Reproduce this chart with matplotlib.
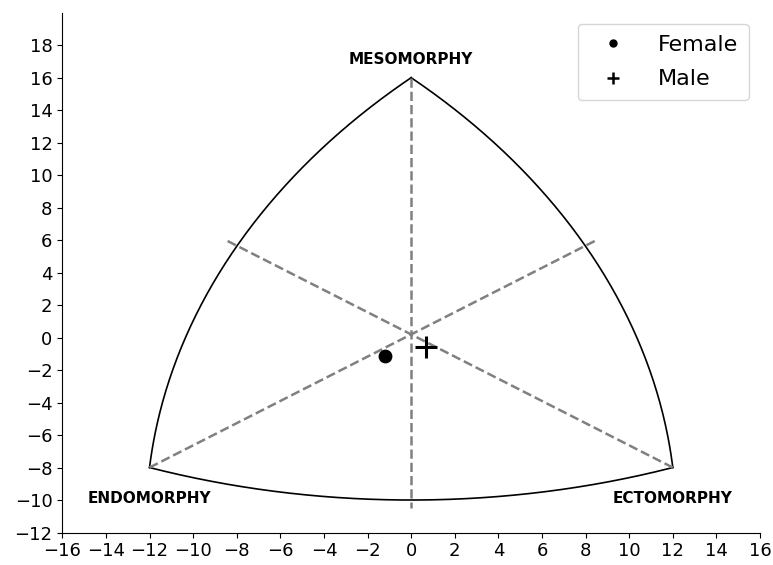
import numpy as np
import matplotlib
matplotlib.use("Agg")
import matplotlib.pyplot as plt
from matplotlib.lines import Line2D

# Somatochart vertices (x = ecto - endo, y = 2*meso - (endo + ecto))
vertex_names = ["MESOMORPHY", "ENDOMORPHY", "ECTOMORPHY"]
vertex_x = [0, -12, 12]
vertex_y = [16, -8, -8]
label_x = [0, -12, 12]
label_y = [17.1, -9.9, -9.9]
arc_radius = 37

# Axis guide lines (start x, start y, end x, end y)
guide_x0 = [0, -12, 12]
guide_y0 = [16, -8, -8]
guide_x1 = [0, 8.5, -8.5]
guide_y1 = [-10.5, 6, 6]

# Mean somatotype points
groups = ["Female", "Male"]
group_x = [-1.22, 0.67]
group_y = [-1.14, -0.57]
group_marker = ["o", "+"]

x_ticks = list(range(-16, 17, 2))
y_ticks = list(range(-12, 19, 2))


def arc(p, q, r, n=200):
    """Circular arc of radius r from p to q, bulging away from the centroid."""
    p, q = np.asarray(p, float), np.asarray(q, float)
    mid = (p + q) / 2
    d = q - p
    half = np.linalg.norm(d) / 2
    normal = np.array([-d[1], d[0]]) / np.linalg.norm(d)
    centroid = np.array([np.mean(vertex_x), np.mean(vertex_y)])
    # centre lies on the side of the chord facing the centroid
    if np.dot(centroid - mid, normal) < 0:
        normal = -normal
    h = np.sqrt(r ** 2 - half ** 2)
    c = mid + normal * h
    a0 = np.arctan2(p[1] - c[1], p[0] - c[0])
    a1 = np.arctan2(q[1] - c[1], q[0] - c[0])
    da = (a1 - a0 + np.pi) % (2 * np.pi) - np.pi
    t = np.linspace(a0, a0 + da, n)
    return c[0] + r * np.cos(t), c[1] + r * np.sin(t)


fig = plt.figure(figsize=(7.73, 5.65), dpi=100)
ax = fig.add_axes([0.0806, 0.0575, 0.9026, 0.92])

verts = list(zip(vertex_x, vertex_y))
for i, j in [(1, 0), (0, 2), (1, 2)]:
    ax.plot(*arc(verts[i], verts[j], arc_radius), color="black", lw=1.2)

for x0, y0, x1, y1 in zip(guide_x0, guide_y0, guide_x1, guide_y1):
    ax.plot([x0, x1], [y0, y1], color="grey", lw=1.8, ls="--")

for name, lx, ly in zip(vertex_names, label_x, label_y):
    ax.text(lx, ly, name, ha="center", va="center", fontsize=11, fontweight="bold")

ax.scatter(group_x[0], group_y[0], marker=group_marker[0], s=80, color="black", zorder=3)
ax.scatter(group_x[1], group_y[1], marker=group_marker[1], s=260, color="black",
           linewidths=2.2, zorder=3)

handles = [
    Line2D([], [], ls="none", marker="o", color="black", markersize=5),
    Line2D([], [], ls="none", marker="+", color="black", markersize=8, markeredgewidth=1.8),
]
ax.legend(handles, groups, loc="upper right", fontsize=16, handletextpad=0.9,
          handlelength=2.2, borderpad=0.5, labelspacing=0.65)

ax.set_xlim(-16, 16)
ax.set_ylim(-12, 20)
ax.set_xticks(x_ticks)
ax.set_yticks(y_ticks)
ax.tick_params(labelsize=13)
ax.spines["top"].set_visible(False)
ax.spines["right"].set_visible(False)

fig.savefig("out.png", dpi=100)
